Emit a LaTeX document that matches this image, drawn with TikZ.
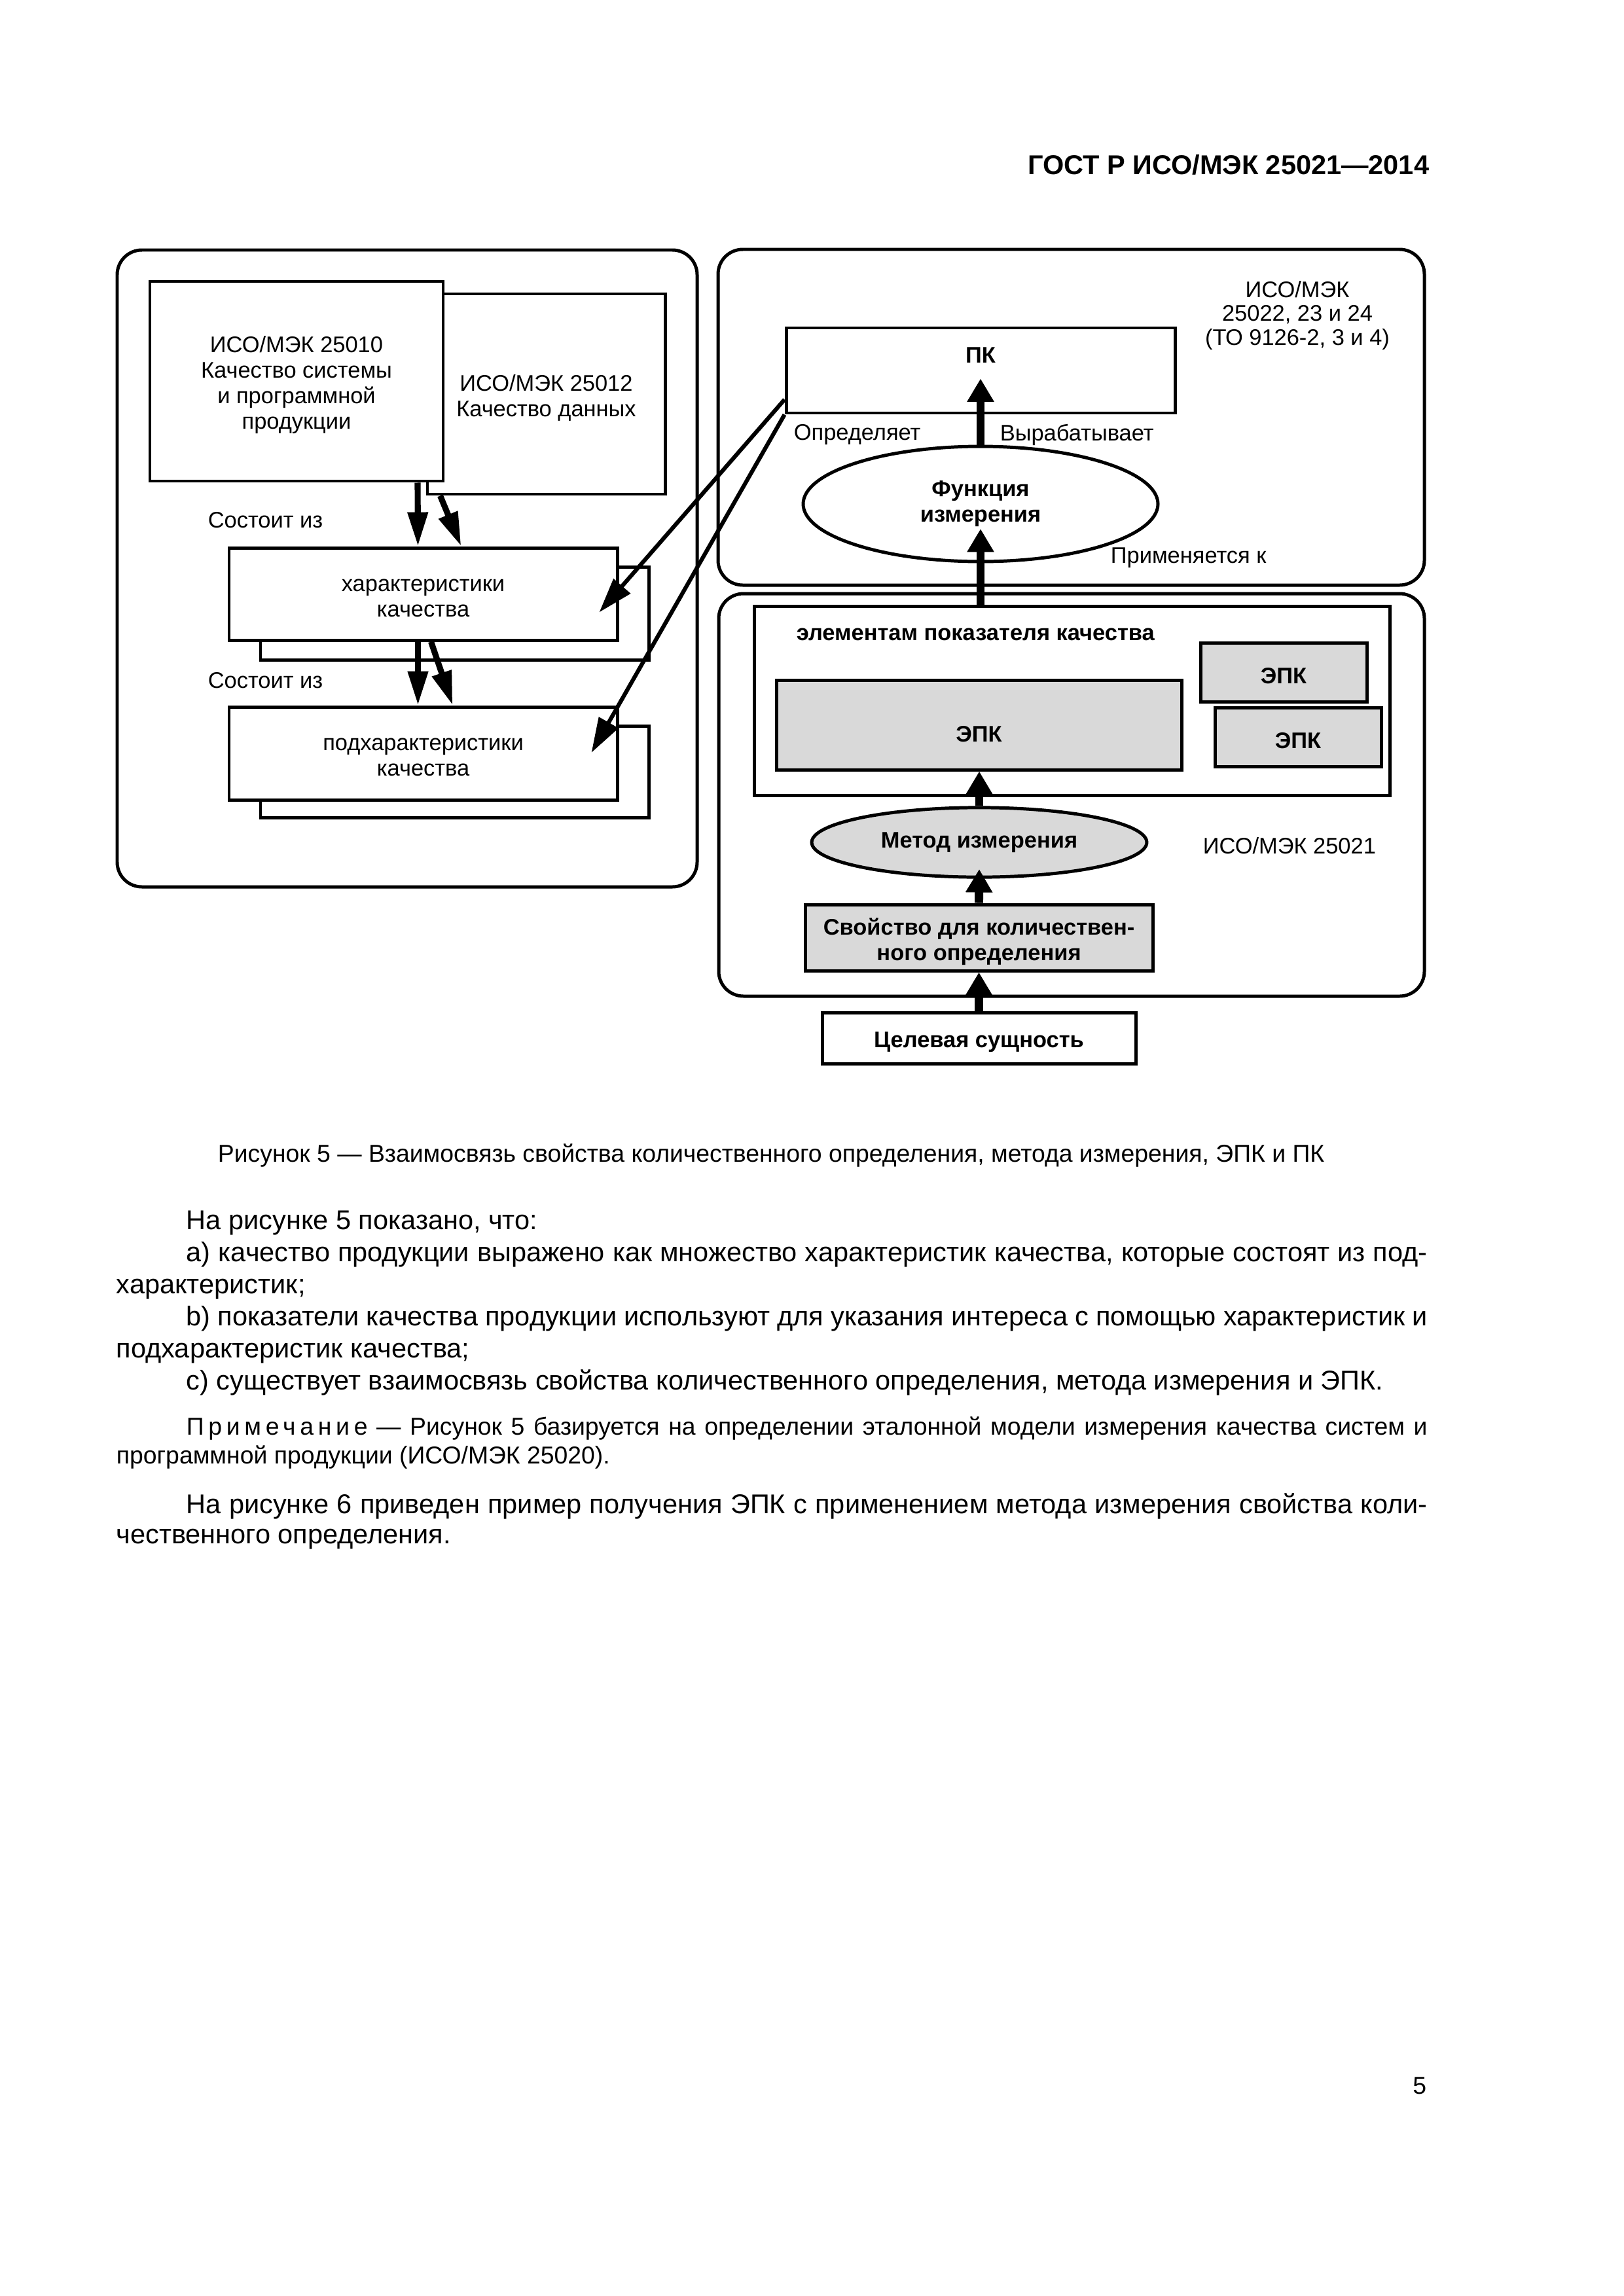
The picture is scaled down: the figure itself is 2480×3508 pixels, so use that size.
\documentclass[tikz,border=0pt]{standalone}
\usepackage{fontspec}
\setmainfont{Liberation Sans}
\usetikzlibrary{arrows.meta,calc,fit,shapes.geometric}

\definecolor{epkgray}{gray}{0.85}

\begin{document}
\begin{tikzpicture}[x=0.0084677cm,y=-0.0084677cm,
    every node/.style={font=\fontsize{8.3}{9.4}\selectfont,inner sep=0pt},
    frame/.style={draw,line width=1.2pt,rounded corners=0.32cm},
    box/.style={draw,line width=1.2pt,fill=white},
    greybox/.style={box,fill=epkgray},
    boxtext/.style={label={[align=center,yshift=-0.05cm]center:#1}},
    boldtext/.style={label={[align=center,yshift=-0.05cm,font=\fontsize{8.3}{9.4}\selectfont\bfseries]center:#1}},
    oval/.style={draw,line width=1.2pt,ellipse,align=center,font=\fontsize{8.3}{9.4}\selectfont\bfseries},
    consist/.style={line width=2.2pt,-{Triangle[length=0.44cm,width=0.25cm]}},
    defines/.style={line width=1.5pt,-{Triangle[length=0.45cm,width=0.28cm]}},
    lead/.style={line width=3.1pt,-{Triangle[length=0.3cm,width=0.33cm]}},
    bodytext/.style={anchor=north west,text width=16.96cm,align=justify}]

  \useasboundingbox (0,0) rectangle (2480,3508);

  \node[anchor=east,font=\fontsize{10}{12}\selectfont\bfseries] (header) at (2184,252) {ГОСТ Р ИСО/МЭК 25021—2014};

  % left part: quality models
  \node[frame,fit={(179,382) (1065,1355)}] (left) {};
  \node[box,fit={(653,449) (1016,755)},boxtext={ИСО/МЭК 25012\\Качество данных}] (q12) {};
  \node[box,fit={(229,430) (677,735)},boxtext={ИСО/МЭК 25010\\Качество системы\\и программной\\продукции}] (q10) {};
  \node[box,fit={(398,866) (991,1008)}] (charback) {};
  \node[box,fit={(350,837) (943,978)},boxtext={характеристики\\качества}] (char) {};
  \node[box,fit={(398,1109) (991,1249)}] (subback) {};
  \node[box,fit={(350,1080) (943,1222)},boxtext={подхарактеристики\\качества}] (sub) {};
  \node[anchor=west] (consist1) at (317,795) {Состоит из};
  \node[anchor=west] (consist2) at (317,1040) {Состоит из};

  \draw[consist] ($(q10.south)+(185,0)$) -- ($(char.north)+(-8,0)$);
  \draw[consist] ($(q12.south west)+(22,0)$) -- ($(char.north)+(58,0)$);
  \draw[consist] ($(char.south)+(-8,0)$) -- ($(sub.north)+(-8,0)$);
  \draw[consist] ($(char.south)+(12,0)$) -- ($(sub.north)+(45,0)$);

  % right part: measures
  \node[frame,fit={(1097,381) (2176,894)}] (top) {};
  \node[frame,fit={(1098,907) (2176,1522)}] (bottom) {};
  \node[align=center,font=\fontsize{8.3}{8.7}\selectfont] (stdtop) at (1982,482) {ИСО/МЭК\\25022, 23 и 24\\(ТО 9126-2, 3 и 4)};
  \node[box,fit={(1201,501) (1795,631)}] (pk) {};
  \node[font=\fontsize{8.3}{9.4}\selectfont\bfseries] (pklabel) at (1498,543) {ПК};
  \node[anchor=west] (deflabel) at (1212,664) {Определяет};
  \node[anchor=west] (genlabel) at (1527,664) {Вырабатывает};
  \node[oval,minimum width=4.59cm,minimum height=1.49cm] (fm) at (1498,770) {Функция\\измерения};
  \node[anchor=west] (applabel) at (1696,852) {Применяется к};

  \node[box,fit={(1152,926) (2123,1215)}] (elem) {};
  \node[anchor=west,font=\fontsize{8.3}{9.4}\selectfont\bfseries] (elemlabel) at (1216,969) {элементам показателя качества};
  \node[greybox,fit={(1186,1039) (1805,1176)},
        label={[yshift=-0.12cm,font=\fontsize{8.3}{9.4}\selectfont\bfseries]center:ЭПК}] (epkmain) {};
  \node[greybox,fit={(1834,982) (2088,1072)},boldtext=ЭПК] (epka) {};
  \node[greybox,fit={(1856,1081) (2110,1171)},boldtext=ЭПК] (epkb) {};
  \node[oval,fill=epkgray,minimum width=4.335cm,minimum height=0.9cm] (method) at (1496,1287) {Метод измерения};
  \node[anchor=west] (stdbottom) at (1837,1292) {ИСО/МЭК 25021};
  \node[greybox,fit={(1230,1382) (1761,1483)},boldtext={Свойство для количествен-\\ного определения}] (prop) {};
  \node[box,fit={(1256,1547) (1735,1625)},boldtext={Целевая сущность}] (target) {};

  \draw[lead] (target.north) -- (target.north |- prop.south);
  \draw[lead] (prop.north) -- ($(method.center)+(0,41)$);
  \draw[lead] (method.north) -- (method.north |- epkmain.south);
  \draw[lead] (fm.center |- elem.north) -- ($(fm.center)+(0,38)$);
  \draw[lead] (fm.north) -- ($(pk.south)+(0,-55)$);

  \draw[defines] ($(pk.south west)+(0,-23)$) -- ($(char.east)+(-30,28)$);
  \draw[defines] (pk.south west) -- ($(sub.east)+(-42,-1)$);

  % page text
  \node[font=\fontsize{9}{11}\selectfont] (caption) at (1178,1765) {Рисунок 5 — Взаимосвязь свойства количественного определения, метода измерения, ЭПК и ПК};

  \node[bodytext,font=\fontsize{10}{11.8}\selectfont] (body) at (177,1849)
    {\setlength{\parindent}{0pt}\noindent\hspace*{0.906cm}На рисунке 5 показано, что:\par
     \hspace*{0.906cm}а) качество продукции выражено как множество характеристик качества, которые состоят из под-\linebreak характеристик;\par
     \hspace*{0.906cm}b) показатели качества продукции используют для указания интереса с помощью характеристик и\linebreak подхарактеристик качества;\par
     \hspace*{0.906cm}с) существует взаимосвязь свойства количественного определения, метода измерения и ЭПК.};

  \node[bodytext,font=\fontsize{9}{10.6}\selectfont] (note) at (177,2164)
    {\setlength{\parindent}{0pt}\noindent\hspace*{0.906cm}{\addfontfeatures{LetterSpace=18}Примечание} — Рисунок 5 базируется на определении эталонной модели измерения качества систем и\linebreak программной продукции (ИСО/МЭК 25020).};

  \node[bodytext,font=\fontsize{10}{11}\selectfont] (example) at (177,2281)
    {\setlength{\parindent}{0pt}\noindent\hspace*{0.906cm}На рисунке 6 приведен пример получения ЭПК с применением метода измерения свойства коли-\linebreak чественного определения.};

  \node[anchor=east,font=\fontsize{9}{11}\selectfont] (pagenum) at (2180,3187) {5};
\end{tikzpicture}
\end{document}
